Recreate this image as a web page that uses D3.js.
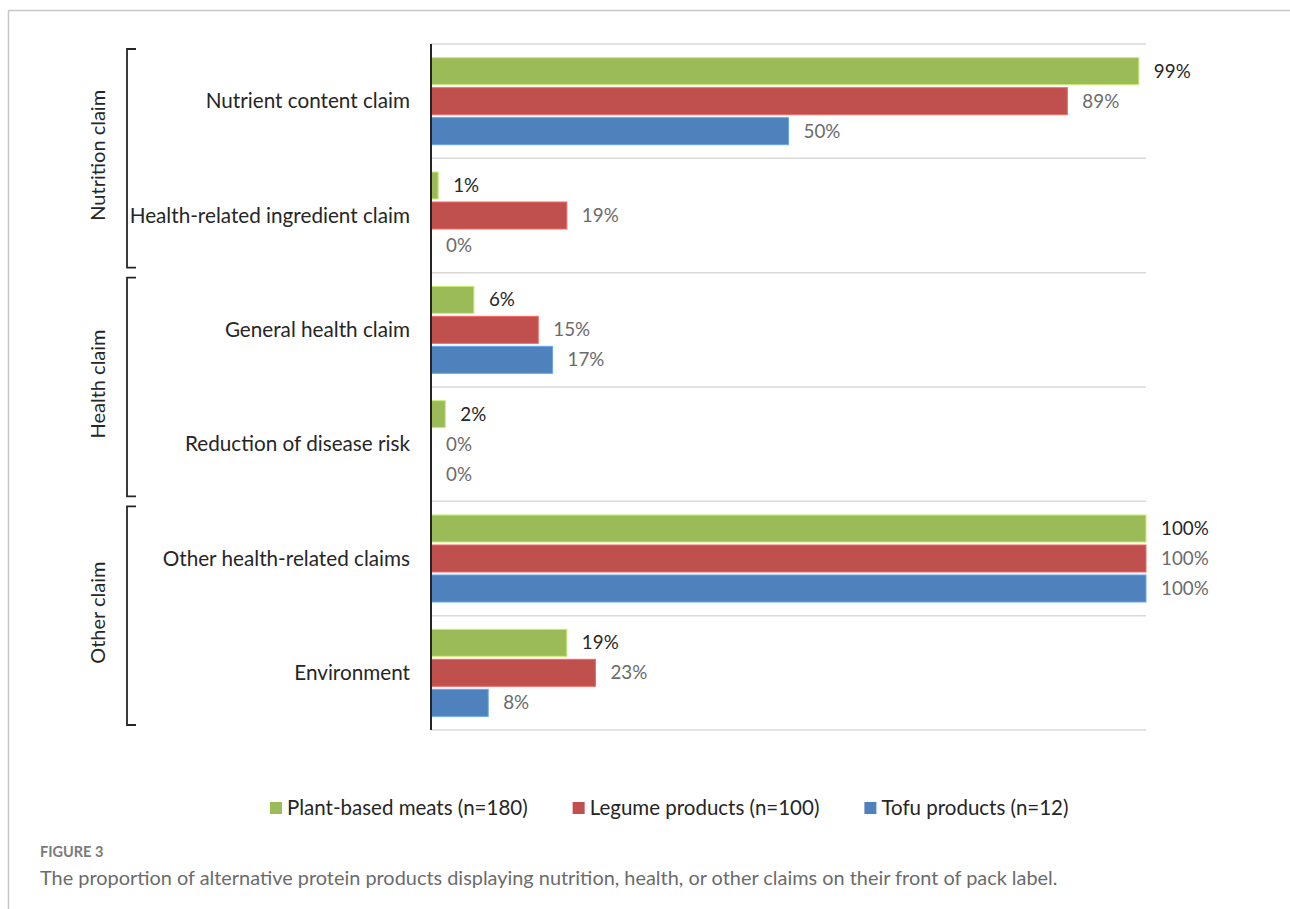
<!DOCTYPE html>
<html>
<head>
<meta charset="utf-8">
<script src="https://cdn.jsdelivr.net/npm/d3@7"></script>
<style>
  body { margin: 0; background: #fff; }
  svg { display: block; font-family: Lato, "Noto Sans", sans-serif; }
</style>
</head>
<body>
<div id="chart"></div>
<script>
// Claim categories, top to bottom
var categories = ["Nutrient content claim", "Health-related ingredient claim",
  "General health claim", "Reduction of disease risk",
  "Other health-related claims", "Environment"];

// Bracket groups on the left (first and last category of each)
var groupNames = ["Nutrition claim", "Health claim", "Other claim"];
var groupFirst = ["Nutrient content claim", "General health claim", "Other health-related claims"];
var groupLast = ["Health-related ingredient claim", "Reduction of disease risk", "Environment"];

// Series (percent of products)
var seriesNames = ["Plant-based meats (n=180)", "Legume products (n=100)", "Tofu products (n=12)"];
var plantBased = [99, 1, 6, 2, 100, 19];
var legume = [89, 19, 15, 0, 100, 23];
var tofu = [50, 0, 17, 0, 100, 8];
var seriesColors = ["#9bbb59", "#c0504d", "#4f81bd"];

var captionLabel = "FIGURE 3";
var captionText = "The proportion of alternative protein products displaying nutrition, health, or other claims on their front of pack label.";

var W = 1290, H = 909;
var plot = {left: 431, right: 1146, top: 44, bottom: 730};

var svg = d3.select("#chart").append("svg")
    .attr("width", W)
    .attr("height", H);

// panel frame (top and left edges only)
svg.append("line").attr("x1", 8).attr("x2", W).attr("y1", 10.5).attr("y2", 10.5)
    .attr("stroke", "#c8c8c8").attr("stroke-width", 1.5);
svg.append("line").attr("x1", 8.5).attr("x2", 8.5).attr("y1", 10).attr("y2", H)
    .attr("stroke", "#c8c8c8").attr("stroke-width", 1.5);

var x = d3.scaleLinear().domain([0, 100]).range([plot.left, plot.right]);
var y = d3.scaleBand().domain(categories).range([plot.top, plot.bottom]);
var ySeries = d3.scaleBand().domain(d3.range(3)).range([0, y.bandwidth()])
    .paddingInner(0.1).paddingOuter(0.455);

// horizontal separators between categories
var seps = categories.map(function(c) { return y(c); }).concat([plot.bottom]);
svg.append("g").selectAll("line").data(seps).enter().append("line")
    .attr("x1", plot.left).attr("x2", plot.right)
    .attr("y1", function(d) { return d; }).attr("y2", function(d) { return d; })
    .attr("stroke", "#d9d9d9").attr("stroke-width", 1.5);

var rows = categories.map(function(c, i) {
  return {cat: c, values: [plantBased[i], legume[i], tofu[i]]};
});

var rowG = svg.append("g").selectAll("g.row").data(rows).enter().append("g")
    .attr("class", "row")
    .attr("transform", function(d) { return "translate(0," + y(d.cat) + ")"; });

rowG.selectAll("rect").data(function(d) { return d.values; }).enter().append("rect")
    .attr("x", x(0))
    .attr("y", function(d, i) { return ySeries(i); })
    .attr("width", function(d) { return x(d) - x(0); })
    .attr("height", ySeries.bandwidth())
    .attr("fill", function(d, i) { return seriesColors[i]; })
    .attr("stroke", function(d, i) { return d > 0 ? d3.color(seriesColors[i]).brighter(0.7) : "none"; })
    .attr("stroke-width", 1);

rowG.selectAll("text").data(function(d) { return d.values; }).enter().append("text")
    .attr("x", function(d) { return x(d) + 15; })
    .attr("y", function(d, i) { return ySeries(i) + ySeries.bandwidth() / 2; })
    .attr("dy", "0.35em")
    .attr("font-size", 18.8)
    .attr("fill", function(d, i) { return i === 0 ? "#262626" : "#6b6b6b"; })
    .text(function(d) { return d + "%"; });

// category labels
svg.append("g").selectAll("text").data(categories).enter().append("text")
    .attr("x", 410)
    .attr("y", function(d) { return y(d) + y.bandwidth() / 2; })
    .attr("dy", "0.35em")
    .attr("text-anchor", "end")
    .attr("font-size", 20.7)
    .attr("fill", "#262626")
    .text(function(d) { return d; });

// vertical axis line
svg.append("line")
    .attr("x1", plot.left).attr("x2", plot.left)
    .attr("y1", plot.top).attr("y2", plot.bottom)
    .attr("stroke", "#262626").attr("stroke-width", 2);

// group brackets
var groups = groupNames.map(function(g, i) {
  return {name: g, y0: y(groupFirst[i]) + 5, y1: y(groupLast[i]) + y.bandwidth() - 5};
});
var bx = 127, bt = 136;
var grpG = svg.append("g").selectAll("g").data(groups).enter().append("g");
grpG.append("path")
    .attr("d", function(d) {
      return "M" + bt + "," + d.y0 + "H" + bx + "V" + d.y1 + "H" + bt;
    })
    .attr("fill", "none")
    .attr("stroke", "#262626")
    .attr("stroke-width", 1.8);
grpG.append("text")
    .attr("transform", function(d) { return "translate(98," + ((d.y0 + d.y1) / 2 - 3) + ") rotate(-90)"; })
    .attr("text-anchor", "middle")
    .attr("dy", "0.35em")
    .attr("font-size", 20)
    .attr("fill", "#262626")
    .text(function(d) { return d.name; });

// legend
var legend = svg.append("g").attr("transform", "translate(270,808)");
var lx = 0;
seriesNames.forEach(function(name, i) {
  var item = legend.append("g").attr("transform", "translate(" + lx + ",0)");
  item.append("rect").attr("x", 0).attr("y", -6).attr("width", 12).attr("height", 12)
      .attr("fill", seriesColors[i]);
  var t = item.append("text").attr("x", 17).attr("y", 0).attr("dy", "0.35em")
      .attr("font-size", 20.5).attr("fill", "#262626").text(name);
  lx += 17 + t.node().getComputedTextLength() + 45;
});

// caption
svg.append("text")
    .attr("x", 40).attr("y", 857)
    .attr("font-size", 14.5)
    .attr("font-weight", 700)
    .attr("fill", "#7a7a7a")
    .text(captionLabel);
svg.append("text")
    .attr("x", 40).attr("y", 885)
    .attr("font-size", 19.9)
    .attr("fill", "#6b6b6b")
    .text(captionText);
</script>
</body>
</html>
